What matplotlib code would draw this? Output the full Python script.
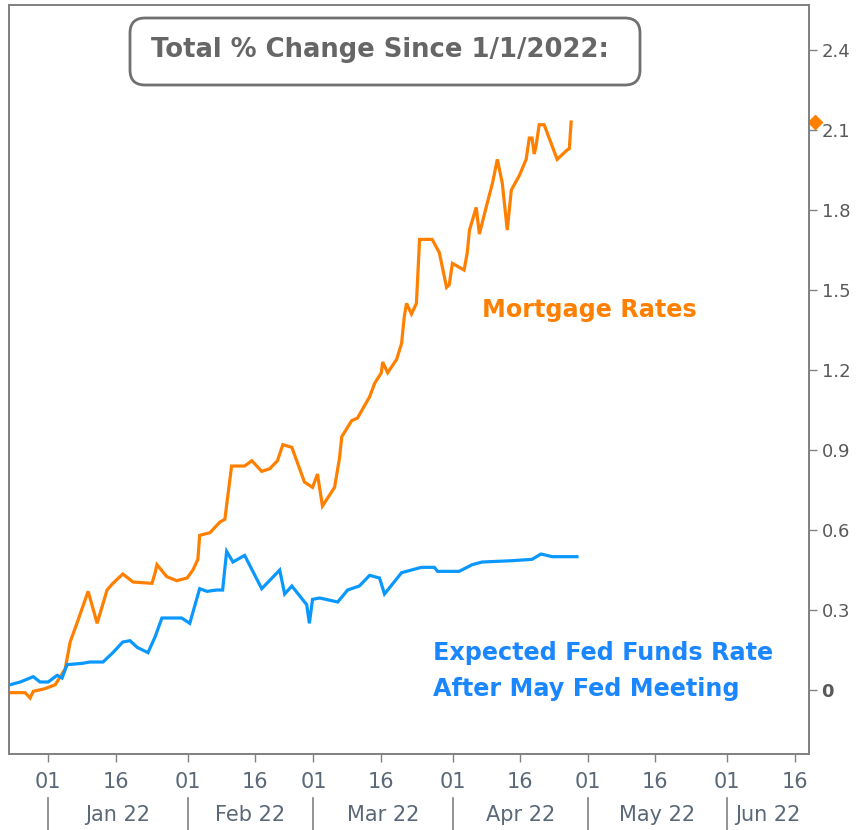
import numpy as np
import pandas as pd
import matplotlib
matplotlib.use("Agg")
import matplotlib.pyplot as plt
import matplotlib.dates as mdates
import matplotlib.transforms as mtransforms
from matplotlib.patches import FancyBboxPatch

# ---------------- data (days since 2022-01-01, % change) ----------------
mortgage_days = [-8.4, -5.1, -4.0, -3.3, -0.7, 1.6, 2.7, 3.8, 4.9, 6.4, 8.9, 10.9,
                 13.1, 14.4, 16.6, 18.9, 23.1, 23.8, 24.2, 26.4, 28.6, 30.9, 32.2,
                 33.3, 33.7, 36.0, 38.2, 39.3, 40.8, 43.7, 45.3, 47.5, 49.3, 51.0,
                 52.2, 54.2, 57.0, 58.8, 59.9, 61.0, 63.7, 64.8, 65.3, 67.5, 68.8,
                 71.5, 72.6, 74.1, 74.4, 75.5, 77.5, 78.6, 79.2, 79.7, 80.8, 81.9,
                 82.6, 85.4, 87.0, 88.6, 89.2, 89.9, 92.5, 93.2, 93.7, 95.2, 95.9,
                 97.4, 98.8, 99.9, 101.0, 102.1, 103.0, 104.8, 106.3, 107.0, 107.6,
                 108.1, 108.5, 109.2, 110.3, 113.2, 115.4, 115.9, 116.3]
mortgage_vals = [-0.01, -0.01, -0.03, -0.005, 0.005, 0.02, 0.05, 0.08, 0.18, 0.25, 0.37, 0.25,
                 0.375, 0.40, 0.435, 0.405, 0.40, 0.44, 0.47, 0.425, 0.41, 0.42, 0.45,
                 0.49, 0.58, 0.59, 0.63, 0.64, 0.84, 0.84, 0.86, 0.82, 0.83, 0.86,
                 0.92, 0.91, 0.78, 0.76, 0.81, 0.69, 0.76, 0.87, 0.95, 1.01, 1.02,
                 1.10, 1.15, 1.19, 1.23, 1.19, 1.24, 1.30, 1.40, 1.45, 1.41, 1.45,
                 1.69, 1.69, 1.64, 1.51, 1.52, 1.60, 1.575, 1.64, 1.725, 1.81, 1.71,
                 1.81, 1.90, 1.99, 1.90, 1.725, 1.875, 1.93, 1.99, 2.07, 2.07,
                 2.01, 2.04, 2.12, 2.12, 1.99, 2.025, 2.03, 2.13]

fed_days = [-8.4, -6.2, -3.3, -1.8, 0.0, 2.0, 3.1, 4.2, 7.6, 9.3, 12.2, 14.4, 16.6,
            18.2, 19.8, 22.2, 23.8, 25.3, 29.7, 31.5, 33.7, 35.3, 37.5, 38.8, 39.7,
            41.1, 43.7, 47.5, 51.5, 52.6, 54.2, 57.5, 58.1, 58.8, 60.4, 64.4, 66.6,
            69.2, 71.5, 73.7, 74.8, 78.6, 80.8, 83.0, 85.9, 86.6, 91.4, 94.3, 96.5,
            103.2, 107.6, 109.6, 112.1, 117.6]
fed_vals = [0.02, 0.03, 0.05, 0.03, 0.03, 0.055, 0.045, 0.095, 0.10, 0.105, 0.105, 0.14, 0.18,
            0.185, 0.16, 0.14, 0.20, 0.27, 0.27, 0.25, 0.38, 0.37, 0.375, 0.375, 0.52,
            0.48, 0.505, 0.38, 0.45, 0.36, 0.39, 0.32, 0.25, 0.34, 0.345, 0.33, 0.375,
            0.39, 0.43, 0.42, 0.36, 0.44, 0.45, 0.46, 0.46, 0.445, 0.445, 0.47, 0.48,
            0.485, 0.49, 0.51, 0.50, 0.50]

latest_mortgage = 2.13

y_ticks = [0, 0.3, 0.6, 0.9, 1.2, 1.5, 1.8, 2.1, 2.4]
y_tick_labels = ["0", "0.3", "0.6", "0.9", "1.2", "1.5", "1.8", "2.1", "2.4"]
month_labels = ["Jan 22", "Feb 22", "Mar 22", "Apr 22", "May 22", "Jun 22"]
month_starts = ["2022-01-01", "2022-02-01", "2022-03-01", "2022-04-01", "2022-05-01", "2022-06-01"]

title_text = "Total % Change Since 1/1/2022:"
mortgage_label = "Mortgage Rates"
fed_label = "Expected Fed Funds Rate\nAfter May Fed Meeting"

# ---------------- styling ----------------
ORANGE = "#FF8000"
BLUE = "#0A98FF"
BLUE_TXT = "#1A86FF"
GRAY = "#808080"
TICK_GRAY = "#595959"
XTICK_COL = "#5A6878"

base = pd.Timestamp("2022-01-01")
m_x = base + pd.to_timedelta(mortgage_days, unit="D")
f_x = base + pd.to_timedelta(fed_days, unit="D")

fig = plt.figure(figsize=(8.59, 8.30), dpi=100)
ax = fig.add_axes([9 / 859, (830 - 754) / 830, 800 / 859, 749 / 830])

ax.plot(m_x, mortgage_vals, color=ORANGE, lw=2.3, solid_joinstyle="miter")
ax.plot(f_x, fed_vals, color=BLUE, lw=2.3, solid_joinstyle="miter")

x_left = base + pd.Timedelta(days=-8.7)
x_right = base + pd.Timedelta(days=169.2)
ax.set_xlim(x_left, x_right)
ax.set_ylim(-0.24, 2.569)

for s in ax.spines.values():
    s.set_color(GRAY)
    s.set_linewidth(1.4)

# y axis on the right
ax.yaxis.tick_right()
ax.set_yticks(y_ticks)
ax.set_yticklabels(y_tick_labels)
ax.tick_params(axis="y", direction="out", length=6, width=1, color=GRAY,
               labelcolor=TICK_GRAY, labelsize=13, pad=3)
for lab in ax.get_yticklabels():
    if lab.get_text() == "0":
        lab.set_fontweight("bold")

# x axis: 1st and 16th of each month
ax.xaxis.set_major_locator(mdates.DayLocator(bymonthday=[1, 16]))
ax.xaxis.set_major_formatter(mdates.DateFormatter("%d"))
ax.tick_params(axis="x", direction="out", length=6, width=1, color=GRAY,
               labelcolor=XTICK_COL, labelsize=15, pad=7)

# month band labels and separators
trans = mtransforms.blended_transform_factory(ax.transData, ax.transAxes)
ms = [pd.Timestamp(d) for d in month_starts]
for i, (start, lab) in enumerate(zip(ms, month_labels)):
    end = ms[i + 1] if i + 1 < len(ms) else x_right
    end = min(end, x_right)
    center = start + (end - start) / 2
    ax.text(center, -0.0814, lab, transform=trans, ha="center", va="center",
            fontsize=15, color=XTICK_COL, clip_on=False)
    ax.plot([start, start], [-0.0587, -0.11], transform=trans, color=GRAY,
            lw=1.2, clip_on=False)

# latest value marker on right axis
ax.plot([1.008], [latest_mortgage], marker="D", ms=7, color=ORANGE,
        transform=mtransforms.blended_transform_factory(ax.transAxes, ax.transData),
        clip_on=False)

# annotations
ax.text(0.726, 0.593, mortgage_label, transform=ax.transAxes, ha="center", va="center",
        fontsize=17.2, fontweight="bold", color=ORANGE)
ax.text(0.53, 0.111, fed_label, transform=ax.transAxes, ha="left", va="center",
        fontsize=17.2, fontweight="bold", color=BLUE_TXT, linespacing=1.62)

# title box (pixel coordinates of the figure)
box = FancyBboxPatch((130, 830 - 85), 510, 67,
                     boxstyle="round,pad=0,rounding_size=15",
                     transform=mtransforms.IdentityTransform(),
                     fc="white", ec="#707070", lw=2, zorder=5)
fig.add_artist(box)
fig.text(380 / 859, 1 - 50 / 830, title_text, ha="center", va="center",
         fontsize=18.6, fontweight="bold", color="#666666", zorder=6)

fig.savefig("out.png", dpi=100)
